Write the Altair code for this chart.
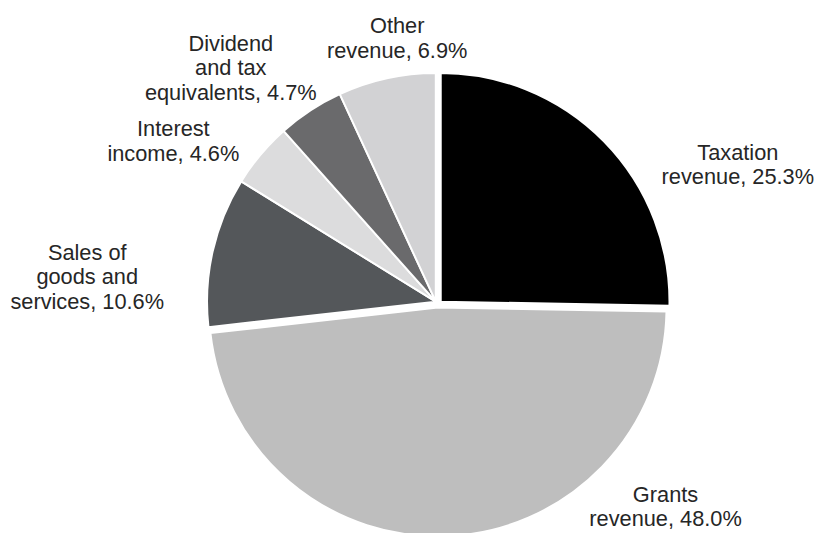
import altair as alt
import pandas as pd

# Data
categories = ["Taxation revenue", "Grants revenue", "Sales of goods and services",
              "Interest income", "Dividend and tax equivalents", "Other revenue"]
values = [25.3, 48.0, 10.6, 4.6, 4.7, 6.9]
label_texts = ["Taxation\nrevenue, 25.3%", "Grants\nrevenue, 48.0%",
               "Sales of\ngoods and\nservices, 10.6%", "Interest\nincome, 4.6%",
               "Dividend\nand tax\nequivalents, 4.7%", "Other\nrevenue, 6.9%"]
colors = ["#000000", "#bebebe", "#54575a", "#dcdcdd", "#6a6a6c", "#d2d2d4"]

# Layout (pixel positions of each label's first line, plot coordinates)
label_x = [737, 664, 80, 167, 225, 393]
label_y = [144, 489, 245, 120, 34, 16]

CX, CY, R = 432, 294, 231
W, H = 820, 525

df = pd.DataFrame({"category": categories, "value": values, "order": list(range(len(values)))})
total = sum(values)

color_scale = alt.Scale(domain=categories, range=colors)
theta_scale = alt.Scale(domain=[0, total], range=[0, 6.283185307])

base = alt.Chart(df).transform_window(
    cum="sum(value)", sort=[alt.SortField("order")]
).transform_calculate(start="datum.cum - datum.value")


def slice_layer(filter_expr, dx, dy):
    return base.transform_filter(filter_expr).mark_arc(
        outerRadius=R, stroke="white", strokeWidth=2
    ).encode(
        theta=alt.Theta("start:Q", scale=theta_scale),
        theta2="cum:Q",
        color=alt.Color("category:N", scale=color_scale, legend=None),
        x=alt.value(CX + dx),
        y=alt.value(CY + dy),
    )


taxation = slice_layer("datum.category == 'Taxation revenue'", 5, 0)
grants = slice_layer("datum.category == 'Grants revenue'", 2, 6)
rest = slice_layer("datum.category != 'Taxation revenue' && datum.category != 'Grants revenue'", 0, 0)

labels_df = pd.DataFrame({"text": label_texts, "lx": label_x, "ly": label_y})
labels = alt.Chart(labels_df).mark_text(
    font="Liberation Sans", fontSize=22, lineHeight=24.5, color="#262626",
    align="center", baseline="middle", lineBreak="\n"
).encode(
    x=alt.X("lx:Q", scale=None),
    y=alt.Y("ly:Q", scale=None),
    text="text:N",
)

chart = alt.layer(rest, taxation, grants, labels).properties(
    width=W, height=H, padding=0, autosize="none"
).configure_view(stroke=None)

chart.save("out.html", embed_options={"renderer": "svg", "actions": False})
